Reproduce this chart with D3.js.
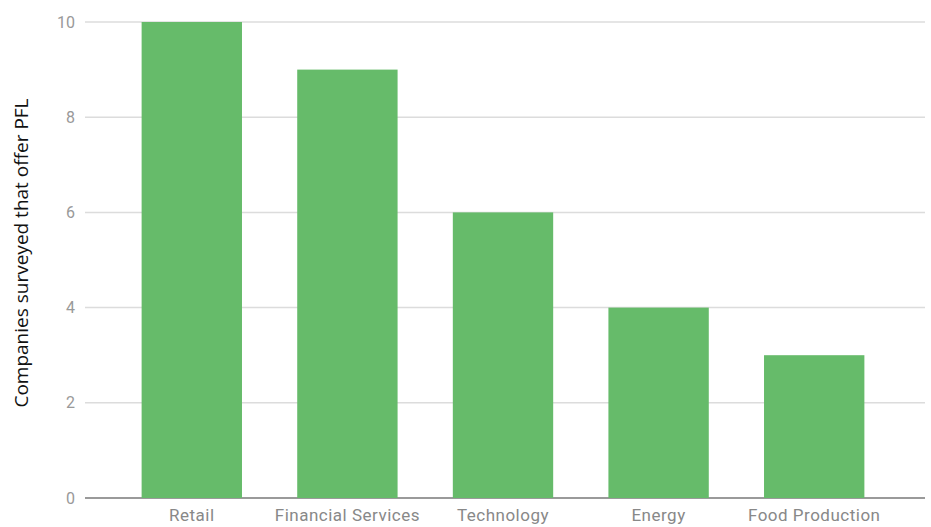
<!DOCTYPE html>
<html>
<head>
<meta charset="utf-8">
<script src="https://cdn.jsdelivr.net/npm/d3@7"></script>
<style>
  body { margin: 0; background: #fff; }
</style>
</head>
<body>
<svg></svg>
<script>
var categories = ['Retail', 'Financial Services', 'Technology', 'Energy', 'Food Production']
var values = [10, 9, 6, 4, 3]
var yTicks = [0, 2, 4, 6, 8, 10]
var yTitle = 'Companies surveyed that offer PFL'

var svgWidth = 931, svgHeight = 527
var svg = d3.select('svg')
    .attr('width', svgWidth)
    .attr('height', svgHeight)

// scales
var x = d3.scaleBand()
    .domain(categories)
    .range([114, 892])
    .paddingInner(0.355)
    .paddingOuter(0.1775)

var y = d3.scaleLinear()
    .domain([0, 10])
    .range([498, 22])

// gridlines
svg.append('g')
    .selectAll('line')
    .data(yTicks)
    .enter()
    .append('line')
    .attr('x1', 85)
    .attr('x2', 925)
    .attr('y1', function(d) { return y(d) })
    .attr('y2', function(d) { return y(d) })
    .attr('stroke', function(d) { return d === 0 ? '#9a9a9a' : '#dcdcdc' })
    .attr('stroke-width', function(d) { return d === 0 ? 2 : 1.5 })

// y tick labels
svg.append('g')
    .selectAll('text')
    .data(yTicks)
    .enter()
    .append('text')
    .attr('x', 75)
    .attr('y', function(d) { return y(d) })
    .attr('dy', '0.35em')
    .attr('text-anchor', 'end')
    .attr('font-family', 'Roboto, sans-serif')
    .attr('font-size', 16)
    .attr('fill', '#999')
    .text(function(d) { return d })

// bars
svg.append('g')
    .selectAll('rect')
    .data(values)
    .enter()
    .append('rect')
    .attr('x', function(d, i) { return x(categories[i]) })
    .attr('width', x.bandwidth())
    .attr('y', function(d) { return y(d) })
    .attr('height', function(d) { return y(0) - y(d) })
    .attr('fill', '#66bb6a')

// x labels
svg.append('g')
    .selectAll('text')
    .data(categories)
    .enter()
    .append('text')
    .attr('x', function(d) { return x(d) + x.bandwidth() / 2 })
    .attr('y', 521)
    .attr('text-anchor', 'middle')
    .attr('font-family', 'Roboto, sans-serif')
    .attr('font-size', 17)
    .attr('letter-spacing', 0.5)
    .attr('fill', '#888')
    .text(function(d) { return d })

// y axis title
svg.append('text')
    .attr('transform', 'translate(21,' + 253 + ') rotate(-90)')
    .attr('text-anchor', 'middle')
    .attr('dy', '0.35em')
    .attr('font-family', '"Open Sans", sans-serif')
    .attr('font-size', 19)
    .attr('fill', '#111')
    .text(yTitle)
</script>
</body>
</html>
